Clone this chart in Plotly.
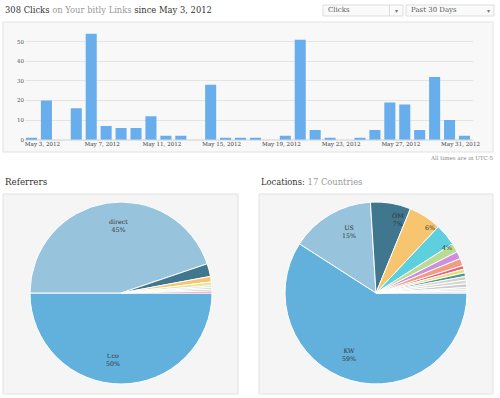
import math
import plotly.graph_objects as go

# ---------------- data ----------------
days = list(range(1, 31))  # May 3 .. Jun 1, 2012
clicks = [1, 20, 0, 16, 54, 7, 6, 6, 12, 2, 2, 0, 28, 1, 1, 1, 0, 2, 51, 5,
          1, 0, 1, 5, 19, 18, 5, 32, 10, 2]
tick_days = [1, 5, 9, 13, 17, 21, 25, 29]
tick_labels = ["May 3, 2012", "May 7, 2012", "May 11, 2012", "May 15, 2012",
               "May 19, 2012", "May 23, 2012", "May 27, 2012", "May 31, 2012"]
y_ticks = [0, 10, 20, 30, 40, 50]

ref_labels = ["t.co", "direct", "other1", "other2", "other3", "other4", "other5",
              "other6", "other7"]
ref_values = [154, 138, 7, 3, 2, 1, 1, 1, 1]
ref_colors = ["#62b0dc", "#98c3dc", "#41768f", "#f7c470", "#ece49a", "#c4e4b0",
              "#a8e0e4", "#f2b0b0", "#e86a8a"]

loc_labels = ["KW", "US", "OM", "C4", "C5", "C6", "C7", "C8", "C9", "C10", "C11",
              "C12", "C13", "C14", "C15", "C16", "C17"]
loc_values = [182, 46, 22, 18, 12, 5, 4, 4, 2, 2, 2, 2, 2, 2, 1, 1, 1]
loc_colors = ["#62b0dc", "#98c3dc", "#41768f", "#f7c470", "#5dcfdd", "#b8dd92",
              "#cf8ede", "#ef9e7f", "#ef5f85", "#e8df73", "#4b9a8b",
              "#cfcfcf", "#d6d6d6", "#cccccc", "#d9d9d9", "#d2d2d2", "#dcdcdc"]

W, H = 500, 398
FONT = "DejaVu Serif"
R = 91
PIE1_C = (121, 293)
PIE2_C = (376, 293)


def px(x):
    return x / W


def py(y):
    return 1 - y / H


def pie_label_annotations(labels, values, center, r, offset_deg=-7):
    tot = sum(values)
    cx, cy = center
    anns = []
    cum = 0
    for l, v in zip(labels, values):
        mid = cum + v / 2
        cum += v
        p = round(100 * v / tot)
        if p >= 7:
            txt = f"{l}<br>{p}%"
        elif p >= 4:
            txt = f"{p}%"
        else:
            continue
        fr = 0.74 if p >= 15 else (0.84 if p >= 7 else 0.93)
        th = math.radians(-360 * mid / tot + offset_deg)
        x = cx + fr * r * math.cos(th)
        y = cy - fr * r * math.sin(th)
        anns.append(dict(xref="paper", yref="paper", x=px(x), y=py(y),
                         xanchor="center", yanchor="middle", showarrow=False,
                         text=txt, font=dict(family=FONT, size=6.3, color="#333")))
    return anns


fig = go.Figure()

fig.add_trace(go.Bar(
    x=days, y=clicks, marker=dict(color="#68aeec", line=dict(width=0)),
    xaxis="x", yaxis="y", showlegend=False,
))

for labels, values, colors, c in [(ref_labels, ref_values, ref_colors, PIE1_C),
                                  (loc_labels, loc_values, loc_colors, PIE2_C)]:
    fig.add_trace(go.Pie(
        labels=labels, values=values, textinfo="none",
        sort=False, direction="clockwise", rotation=90,
        marker=dict(colors=colors, line=dict(color="white", width=1)),
        domain=dict(x=[px(c[0] - R), px(c[0] + R)], y=[py(c[1] + R), py(c[1] - R)]),
        showlegend=False, hoverinfo="label+percent",
    ))

shapes = [
    dict(type="rect", xref="paper", yref="paper", x0=px(3), x1=px(493), y0=py(152), y1=py(22),
         fillcolor="#f8f8f8", line=dict(color="#e2e2e2", width=1), layer="below"),
    dict(type="rect", xref="paper", yref="paper", x0=px(3), x1=px(238), y0=py(394), y1=py(194),
         fillcolor="#f5f5f5", line=dict(color="#e2e2e2", width=1), layer="below"),
    dict(type="rect", xref="paper", yref="paper", x0=px(259), x1=px(493), y0=py(394), y1=py(194),
         fillcolor="#f5f5f5", line=dict(color="#e2e2e2", width=1), layer="below"),
    dict(type="rect", xref="paper", yref="paper", x0=px(323), x1=px(403), y0=py(16), y1=py(5),
         fillcolor="#fafafa", line=dict(color="#dddddd", width=1)),
    dict(type="line", xref="paper", yref="paper", x0=px(389.5), x1=px(389.5), y0=py(16), y1=py(5),
         line=dict(color="#dddddd", width=1)),
    dict(type="rect", xref="paper", yref="paper", x0=px(406), x1=px(494), y0=py(16), y1=py(5),
         fillcolor="#fafafa", line=dict(color="#dddddd", width=1)),
]

annotations = [
    dict(xref="paper", yref="paper", x=px(3), y=py(10), xanchor="left", yanchor="middle",
         showarrow=False, align="left",
         text="<span style='color:#333'>308 Clicks</span> <span style='color:#999'>on Your bitly Links</span> <span style='color:#333'>since May 3, 2012</span>",
         font=dict(family=FONT, size=8.4)),
    dict(xref="paper", yref="paper", x=px(326), y=py(10.5), xanchor="left", yanchor="middle",
         showarrow=False, text="Clicks", font=dict(family=FONT, size=7, color="#555")),
    dict(xref="paper", yref="paper", x=px(396.5), y=py(11), xanchor="center", yanchor="middle",
         showarrow=False, text="▾", font=dict(family=FONT, size=6, color="#777")),
    dict(xref="paper", yref="paper", x=px(409), y=py(10.5), xanchor="left", yanchor="middle",
         showarrow=False, text="Past 30 Days", font=dict(family=FONT, size=7, color="#555")),
    dict(xref="paper", yref="paper", x=px(488), y=py(11), xanchor="center", yanchor="middle",
         showarrow=False, text="▾", font=dict(family=FONT, size=6, color="#777")),
    dict(xref="paper", yref="paper", x=px(496), y=py(158), xanchor="right", yanchor="middle",
         showarrow=False, text="All times are in UTC-5", font=dict(family=FONT, size=5.5, color="#888")),
    dict(xref="paper", yref="paper", x=px(3), y=py(182), xanchor="left", yanchor="middle",
         showarrow=False, text="Referrers", font=dict(family=FONT, size=8.7, color="#333")),
    dict(xref="paper", yref="paper", x=px(259), y=py(182), xanchor="left", yanchor="middle",
         showarrow=False,
         text="<span style='color:#333'>Locations:</span> <span style='color:#999'>17 Countries</span>",
         font=dict(family=FONT, size=8.4)),
]
annotations += pie_label_annotations(ref_labels, ref_values, PIE1_C, R)
annotations += pie_label_annotations(loc_labels, loc_values, PIE2_C, R)

fig.update_layout(
    width=W, height=H, margin=dict(l=0, r=0, t=0, b=0, pad=0, autoexpand=False),
    paper_bgcolor="white", plot_bgcolor="rgba(0,0,0,0)",
    bargap=0.26, shapes=shapes, annotations=annotations,
    xaxis=dict(domain=[px(25), px(473)], range=[0.565, 30.57], tickvals=tick_days,
               ticktext=tick_labels, ticklabelshift=11, showgrid=False, zeroline=False,
               showline=False, ticks="", tickfont=dict(family=FONT, size=5.6, color="#444"),
               anchor="y", fixedrange=True, automargin=False),
    yaxis=dict(domain=[py(139.7), py(29.9)], range=[0, 56], tickvals=y_ticks,
               showgrid=True, gridcolor="#e4e4e4", gridwidth=1, zeroline=True,
               zerolinecolor="#e4e4e4", showline=False, ticks="",
               tickfont=dict(family=FONT, size=5.5, color="#555"), anchor="x",
               fixedrange=True, automargin=False),
    font=dict(family=FONT),
)

post = (
    "var de=document.documentElement, b=document.body;"
    "de.style.margin='0';de.style.padding='0';de.style.overflow='hidden';"
    "b.style.margin='0';b.style.padding='0';b.style.overflow='hidden';"
)

fig.write_html("out.html", config={"displayModeBar": False}, post_script=post)
